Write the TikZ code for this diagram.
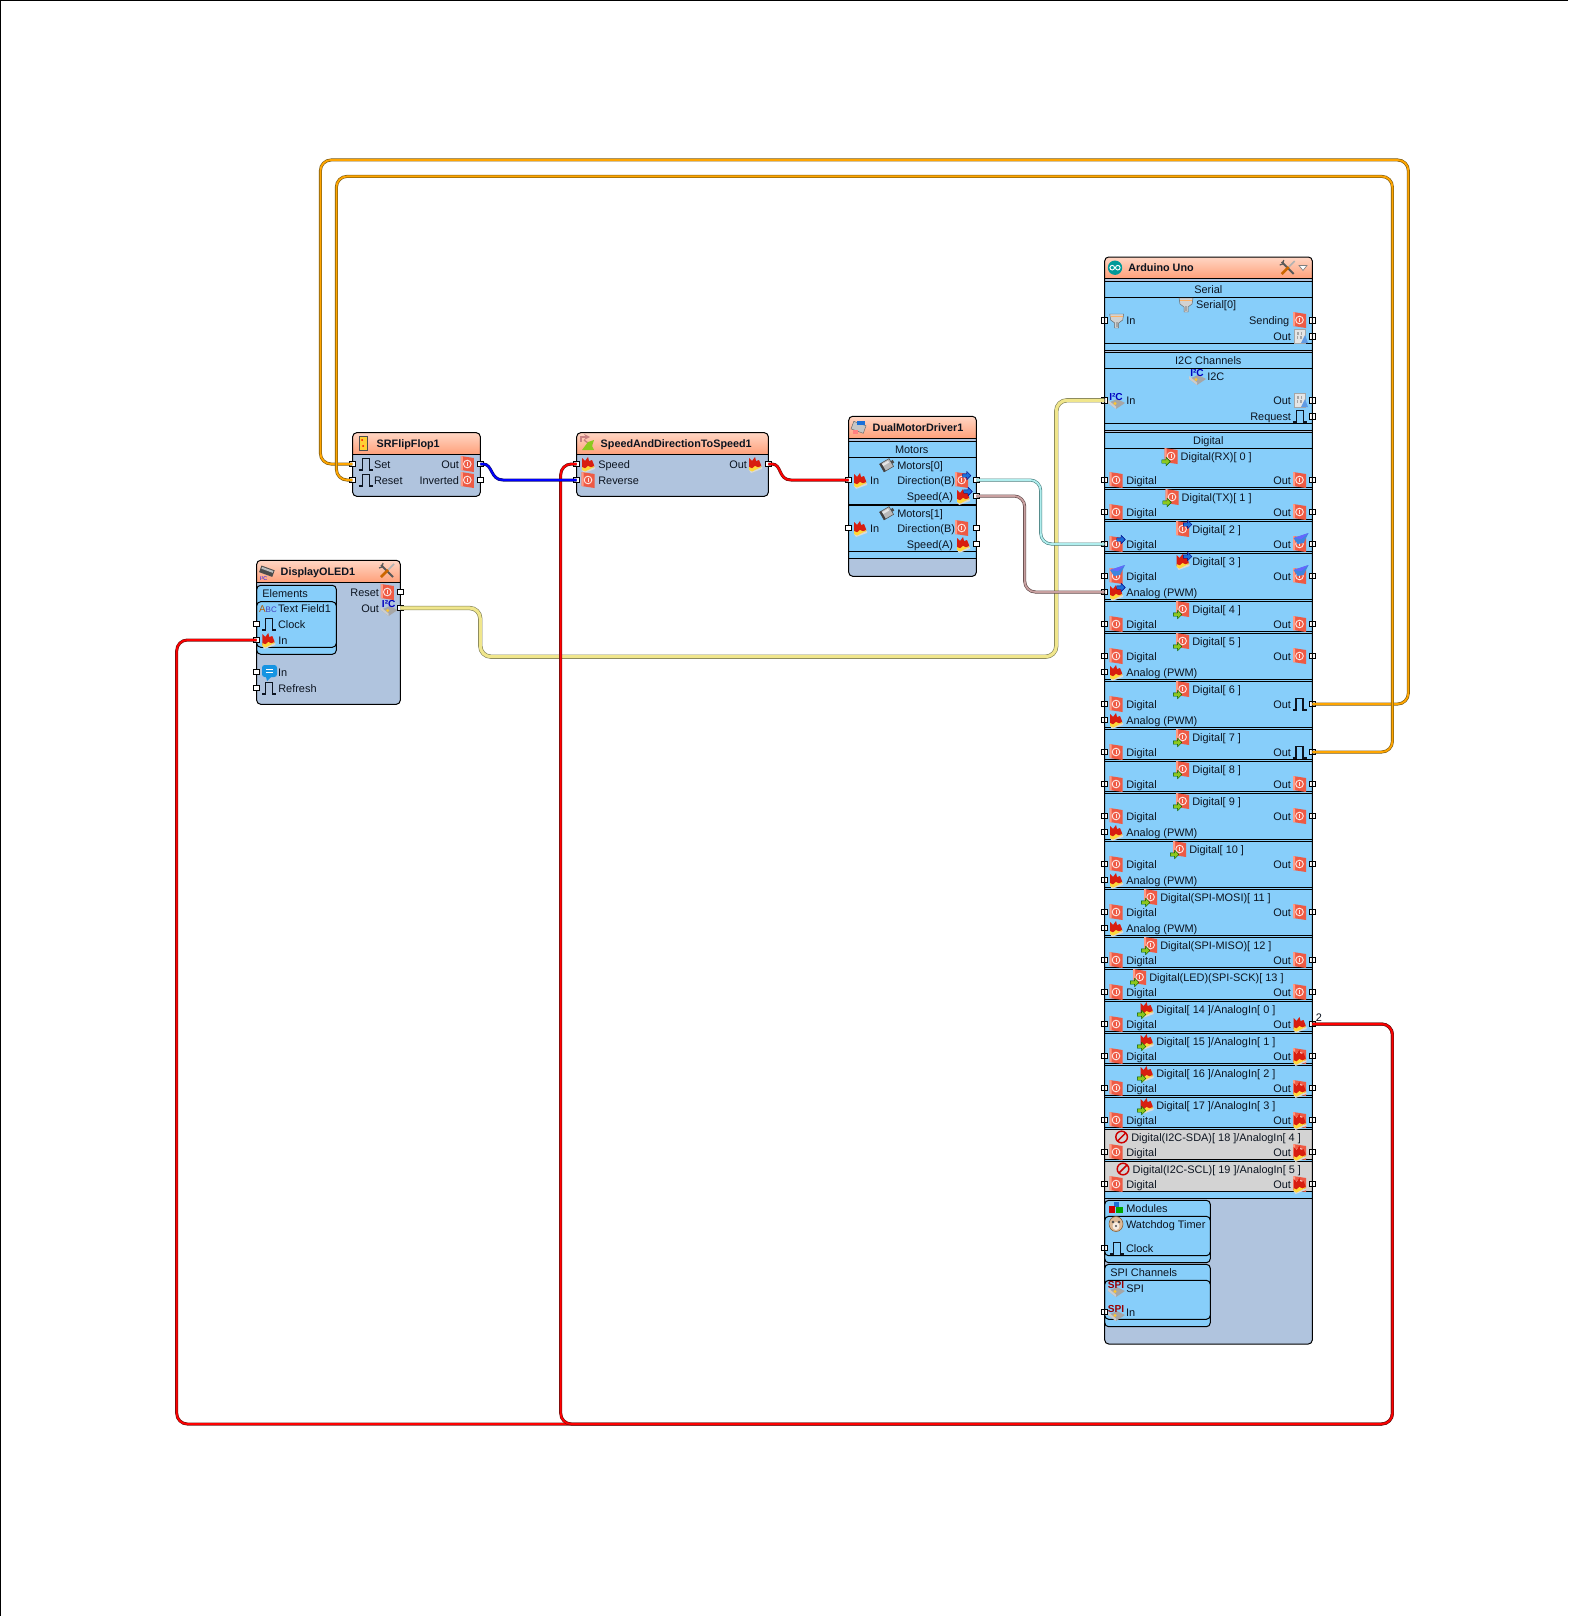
\documentclass[tikz,border=0pt]{standalone}
\usepackage{fontspec}
\setmainfont{Liberation Sans}
\definecolor{hdrA}{HTML}{FFD6C4}
\definecolor{hdrB}{HTML}{FFA07A}
\definecolor{body}{HTML}{B0C4DE}
\definecolor{sect}{HTML}{87CEFA}
\definecolor{grayrow}{HTML}{D3D3D3}
\definecolor{ink}{HTML}{0C1420}
\definecolor{tile}{HTML}{EE5A44}
\definecolor{tileb}{HTML}{FF9A84}
\definecolor{yel}{HTML}{FFD83A}
\definecolor{flam}{HTML}{D81E10}
\definecolor{grn}{HTML}{8CC81E}
\definecolor{blu}{HTML}{1C70D8}
\definecolor{orcore}{HTML}{FFA500}
\definecolor{oredge}{HTML}{7A5A10}
\definecolor{redcore}{HTML}{FF0000}
\definecolor{rededge}{HTML}{701010}
\definecolor{blcore}{HTML}{0000FF}
\definecolor{bledge}{HTML}{101070}
\definecolor{crcore}{HTML}{F0E68C}
\definecolor{credge}{HTML}{808058}
\definecolor{tlcore}{HTML}{B0EEEE}
\definecolor{tledge}{HTML}{4A8080}
\definecolor{mvcore}{HTML}{C8A0A0}
\definecolor{mvedge}{HTML}{604848}
\tikzset{
  x=0.75pt,y=-0.75pt,
  lab/.style={font=\fontsize{8.2}{9}\selectfont,text=ink,inner sep=0pt,outer sep=0pt},
  hdr/.style={font=\bfseries\fontsize{8.1}{9}\selectfont,text=ink,inner sep=0pt,outer sep=0pt},
  pinb/.style={rectangle,draw=black,fill=white,line width=0.75pt,minimum size=4.2pt,inner sep=0pt,outer sep=0pt},
  compbody/.style={rectangle,rounded corners=3pt,fill=body,inner sep=0pt,outer sep=0pt,anchor=north west},
  outl/.style={draw=black,line width=0.75pt},
  sec/.style={draw=black,line width=0.75pt,fill=sect},
  wire/.style={line width=0.45pt,double distance=1.35pt,rounded corners=8pt,line cap=butt},
  wor/.style={wire,draw=oredge,double=orcore},
  wrd/.style={wire,draw=rededge,double=redcore},
  wbl/.style={wire,draw=bledge,double=blcore},
  wcr/.style={wire,draw=credge,double=crcore,double distance=2.3pt},
  wtl/.style={wire,draw=tledge,double=tlcore},
  wmv/.style={wire,draw=mvedge,double=mvcore},
}
\newcount\tcnt
\newcommand\tL[3]{\global\advance\tcnt by 1\relax\node[lab,anchor=base west] (t\the\tcnt) at (#1,#2+4) {#3};}
\newcommand\tR[3]{\global\advance\tcnt by 1\relax\node[lab,anchor=base east] (t\the\tcnt) at (#1,#2+4) {#3};}
\newcommand\tC[3]{\global\advance\tcnt by 1\relax\node[lab,anchor=base] (t\the\tcnt) at (#1,#2+4) {#3};}
\newcommand\tH[3]{\global\advance\tcnt by 1\relax\node[hdr,anchor=base west] (t\the\tcnt) at (#1,#2+4) {#3};}
% icons
\newcommand\icdig[2]{\begin{scope}[shift={(#1,#2)}]
  \fill[tile] (-6.5,-8)--(6.5,-6)--(6.5,8)--(-6.5,6)--cycle;
  \fill[tileb] (-6.5,-8)--(-4.5,-7.6)--(-4.5,6.4)--(-6.5,6)--cycle;
  \draw[white!85!tile,line width=0.7pt] (0,0) circle (3.8);
  \draw[white!85!tile,line width=0.6pt] (0,-2)--(0,2);
\end{scope}}
\newcommand\icana[2]{\begin{scope}[shift={(#1,#2)}]
  \fill[gray!30] (-6,6)--(7,3)--(7,5)--(-4,9)--cycle;
  \fill[flam] (-6,5)--(-6,-6)--(-3,-3)--(0,-7)--(1,-3)--(4,-4)--(6,1)--(6,3)--cycle;
  \fill[yel] (-6,6)--(-6,3)--(-3,4.5)--(0,2)--(3,3.5)--(6,2)--(6,3)--(-3,7.5)--cycle;
\end{scope}}
\newcommand\icclk[2]{\begin{scope}[shift={(#1,#2)}]
  \draw[ink,line width=0.95pt,line join=miter] (-7,6)--(-3.5,6)--(-3.5,-5.5)--(3.5,-5.5)--(3.5,6)--(7,6);
\end{scope}}
\newcommand\icgr[2]{\begin{scope}[shift={(#1,#2)},scale=0.85]
  \fill[grn,draw=green!35!black,line width=0.3pt] (-5,-2)--(0,-2)--(0,-5)--(5,0)--(0,5)--(0,2)--(-5,2)--cycle;
\end{scope}}
\newcommand\icbl[2]{\begin{scope}[shift={(#1,#2)},scale=0.85]
  \fill[blu,draw=blue!50!black,line width=0.3pt] (-5,-2)--(0,-2)--(0,-5)--(5,0)--(0,5)--(0,2)--(-5,2)--cycle;
\end{scope}}
\newcommand\icwing[2]{\begin{scope}[shift={(#1,#2)}]
  \fill[blu!85] (-7,-3)--(8,-8)--(3,2)--(-3,3)--cycle;
  \fill[blue!60!white] (-7,-3)--(8,-8)--(1,-2)--cycle;
\end{scope}}
\newcommand\icdigG[2]{\icdig{#1}{#2}\icgr{#1-5}{#2+5.5}}
\newcommand\icdigB[2]{\icdig{#1}{#2}\icbl{#1+5}{#2-4.5}}
\newcommand\icdigW[2]{\icdig{#1}{#2}\icwing{#1+1}{#2-3}}
\newcommand\icanaB[2]{\icana{#1}{#2}\icbl{#1+5}{#2-4.5}}
\newcommand\icanaG[2]{\icana{#1}{#2}\icgr{#1-5}{#2+5.5}}
\newcommand\icdigA[2]{\icdig{#1}{#2}\icana{#1}{#2+1}}
\newcommand\icbin[2]{\begin{scope}[shift={(#1,#2)}]
  \fill[gray!20,draw=gray!70,line width=0.3pt] (-6,-7) rectangle (5,7);
  \fill[gray!70] (-3,-4) rectangle (-1,-1);\fill[gray!70] (1,-4) rectangle (2,-1);
  \fill[gray!70] (-3,0) rectangle (-2,3);\fill[gray!70] (0,0) rectangle (2,3);
  \fill[blu!70] (1,7)--(5,-1)--(8,7)--cycle;
\end{scope}}
\newcommand\icser[2]{\begin{scope}[shift={(#1,#2)}]
  \fill[gray!35,draw=gray!80!black,line width=0.35pt] (-7,-6)--(7,-6)--(6,0)--(2,3)--(2,8)--(-2,8)--(-2,3)--(-6,0)--cycle;
  \fill[orange!60] (-6,-4) rectangle (6,-2.6);
  \fill[gray!70] (-1,2) rectangle (1,7);
\end{scope}}
\newcommand\icchip[3]{\begin{scope}[shift={(#1,#2)}]
  \fill[gray!70] (-8,3)--(1,-1)--(9,3)--(0,9)--cycle;
  \fill[gray!40] (-8,3)--(0,9)--(0,6.5)--(-8,0)--cycle;
  \fill[yel!80!orange] (-1,3.5) circle (1.6);
  \global\advance\tcnt by 1\relax
  \node[inner sep=0pt,text=#3,font=\bfseries\fontsize{7.6}{8}\selectfont] (t\the\tcnt) at (0,-3) {\ifnum\pdfstrcmp{#3}{blue!75!black}=0 I²C\else SPI\fi};
\end{scope}}
\newcommand\icmot[2]{\begin{scope}[shift={(#1,#2)}]
  \fill[gray!55,draw=black!70,line width=0.4pt,rotate=30] (-6,-4.5) rectangle (5,4.5);
  \fill[gray!20,rotate=30] (-4,-3.2) rectangle (3,-1);
  \fill[black!75,rotate=30] (-6,-4.5) rectangle (-4,4.5);
  \fill[black!70,rotate=30] (5,-1.5) rectangle (7.5,1.5);
\end{scope}}
\newcommand\icforb[2]{\begin{scope}[shift={(#1,#2)}]
  \draw[red!80!black,line width=1.1pt] (0,0) circle (5.8);
  \draw[red!80!black,line width=1.1pt] (-4,4)--(4,-4);
\end{scope}}
\newcommand\icwrench[2]{\begin{scope}[shift={(#1,#2)}]
  \draw[gray!70!black,line width=1.5pt] (-6,-6)--(6,6);
  \draw[gray!70!black,line width=0.9pt] (-8,-3)--(-5,-4)--(-4,-8);
  \draw[gray!60,line width=1.2pt] (7,-7)--(1,-1);
  \draw[orange!80!black,line width=1.9pt] (1,-1)--(-6,6);
\end{scope}}
% components
\newcommand\comp[6]{%
  \pgfmathsetmacro\cw{(#4-#2)*0.75}\pgfmathsetmacro\ch{(#5-#3)*0.75}
  \node[compbody,minimum width=\cw pt,minimum height=\ch pt] (#1) at (#2,#3) {};
  \shade[top color=hdrA,bottom color=hdrB] (#2,#6) [rounded corners=3pt] -- (#2,#3) -- (#4,#3) [sharp corners] -- (#4,#6) -- cycle;
  \draw[outl] (#2,#6)--(#4,#6);
}
\newcommand\compout[4]{\draw[outl,rounded corners=3pt] (#1,#2) rectangle (#3,#4);}
\newcommand\pinode[3]{\node[pinb] (#1) at (#2,#3) {};}
\newcommand\rowL[3]{\pinode{al#1}{1104.3}{#1}#3{1116}{#1}\tL{1126.3}{#1}{#2}}
\newcommand\rowR[3]{\pinode{ar#1}{1312.3}{#1}#3{1299.5}{#1}\tR{1291}{#1}{#2}}
\newcommand\dT[4]{#4{#2-9.7}{#1}\tL{#2}{#1}{#3}}
\newcommand\hl[1]{\draw[outl] (1104.7,#1)--(1312.3,#1);}
\begin{document}
\begin{tikzpicture}
\useasboundingbox (0,0) rectangle (1568,1616);
\fill[white] (0,0) rectangle (1568,1616);
\coordinate (frameTL) at (0.5,0.5);
\draw[black,line width=1pt] (1568,0.5) -- (frameTL) -- (0.5,1616);

%%% SRFlipFlop
\comp{sr}{352.7}{432.7}{480.3}{496.3}{454.3}
\begin{scope}[shift={(363,443)}]
  \fill[yel!90!orange,draw=black!70,line width=0.4pt] (-4,-7) rectangle (4,7);
  \fill[red] (-1,-3) circle (1);\fill[red] (0,3) circle (1);
\end{scope}
\tH{376.7}{443}{SRFlipFlop1}
\icclk{365.7}{464}\tL{374}{464}{Set}
\icclk{365.7}{480}\tL{374}{480}{Reset}
\icdig{467.3}{464}\tR{459}{464}{Out}
\icdig{467.3}{480}\tR{459}{480}{Inverted}
\compout{352.7}{432.7}{480.3}{496.3}
\pinode{srset}{352.3}{464}\pinode{srreset}{352.3}{480}\pinode{srout}{480.3}{464}\pinode{srinv}{480.3}{480}

%%% SpeedAndDirection
\comp{sd}{576.7}{432.7}{768.3}{496.3}{454.3}
\begin{scope}[shift={(587,443)}]
  \draw[red!40!gray!70,line width=1pt,->,>=stealth] (-6,-1)--(-6,-6)--(3,-6);
  \draw[red!40!gray!70,line width=1pt] (-3,-3)--(5,3);
  \fill[grn] (-5,7)--(1,-1)--(7,-3)--(5,3)--(7,7)--cycle;
\end{scope}
\tH{600.7}{443}{SpeedAndDirectionToSpeed1}
\icana{588}{464}\tL{598.3}{464}{Speed}
\icdig{588}{480}\tL{598.3}{480}{Reverse}
\icana{755}{464}\tR{747}{464}{Out}
\compout{576.7}{432.7}{768.3}{496.3}
\pinode{sdspeed}{576.7}{464}\pinode{sdrev}{576.7}{480}\pinode{sdout}{768.3}{464}

%%% DualMotorDriver
\comp{dm}{848.7}{416.3}{976.3}{576.3}{438.3}
\begin{scope}[shift={(859,427.5)}]
  \fill[gray!45,draw=black!60,line width=0.35pt,rotate=-20] (-7,-4) rectangle (6,4);
  \fill[blu] (-2,-7)--(6,-7)--(6,-3)--(-2,-3)--cycle;
  \fill[red!50] (-6,2) rectangle (-1,6);
\end{scope}
\tH{872.7}{427.7}{DualMotorDriver1}
\filldraw[sec] (848.7,441) rectangle (976.3,558.3);
\draw[outl] (848.7,457.3)--(976.3,457.3);
\draw[outl] (848.7,504.3)--(976.3,504.3);
\draw[outl] (848.7,505.9)--(976.3,505.9);
\draw[outl] (848.7,551.3)--(976.3,551.3);
\tC{911.7}{449}{Motors}
\icmot{887}{465}\tL{897.3}{465}{Motors[0]}
\icana{860}{480}\tL{870}{480}{In}
\icdigB{961.7}{480}\tR{955}{480}{Direction(B)}
\icanaB{963}{496}\tR{953}{496}{Speed(A)}
\icmot{887}{513}\tL{897.3}{513}{Motors[1]}
\icana{860}{528}\tL{870}{528}{In}
\icdig{961.7}{528}\tR{955}{528}{Direction(B)}
\icana{963}{544}\tR{953}{544}{Speed(A)}
\compout{848.7}{416.3}{976.3}{576.3}
\pinode{dmin}{848.7}{480}\pinode{dmdir}{976.3}{480}\pinode{dmspd}{976.3}{496}
\pinode{dmin2}{848.7}{528}\pinode{dmdir2}{976.3}{528}\pinode{dmspd2}{976.3}{544}

%%% DisplayOLED
\comp{ol}{256.7}{560.3}{400.3}{704.3}{582.3}
\begin{scope}[shift={(266.7,571.7)}]
  \fill[black!70,rotate=-20] (-7,-4) rectangle (7,3);
  \fill[gray!50,rotate=-20] (-6,-3) rectangle (6,-1);
  \node[inner sep=0pt,text=blue,font=\fontsize{4}{4}\selectfont] (oledtag) at (-3,7) {I²C};
\end{scope}
\tH{280.7}{571.5}{DisplayOLED1}
\icwrench{387}{571}
\filldraw[sec,rounded corners=3pt] (256.7,585.3) rectangle (336.3,654.3);
\filldraw[sec,rounded corners=3pt] (256.7,601.7) rectangle (336.3,647.3);
\tL{262.3}{593}{Elements}
\tL{278}{608}{Text Field1}
\begin{scope}[shift={(268,609)}]
  \global\advance\tcnt by 1\relax
  \node[inner sep=0pt,text=orange!70!black,font=\fontsize{7.4}{8}\selectfont] (t\the\tcnt) at (0,0) {A\textcolor{blue!50!gray}{\fontsize{6}{6}\selectfont BC}};
\end{scope}
\icclk{269.3}{624}\tL{278}{624}{Clock}
\icana{268.3}{640}\tL{278.3}{640}{In}
\tR{379}{592}{Reset}\icdig{387.3}{592}
\tR{379}{608}{Out}
\icchip{388.7}{607}{blue!75!black}
\begin{scope}[shift={(269,672)}]
  \fill[blu!75!cyan,rounded corners=2pt] (-7,-7) rectangle (8,5);
  \fill[blu!75!cyan] (-3,5)--(2,5)--(-2,9)--cycle;
  \draw[white,line width=0.6pt] (-3,-3)--(4,-3) (-3,0)--(4,0);
\end{scope}
\tL{278}{672}{In}
\icclk{269.3}{688}\tL{278.3}{688}{Refresh}
\compout{256.7}{560.3}{400.3}{704.3}
\pinode{olclk}{256.7}{624}\pinode{olin}{256.7}{640}\pinode{olin2}{256.7}{672}\pinode{olrefresh}{256.7}{688}
\pinode{olreset}{400.3}{592}\pinode{olout}{400.3}{608}

%%% Arduino
\comp{ar}{1104.7}{257}{1312.3}{1344}{278.3}
\fill[teal!80!cyan] (1115,267.7) circle (7.2);
\draw[white,line width=0.7pt] (1112.2,267.7) circle (2.3) (1117.8,267.7) circle (2.3);
\tH{1128.3}{267.5}{Arduino Uno}
\icwrench{1287.7}{268}
\fill[white,draw=gray,line width=0.5pt] (1299,265.5)--(1307,265.5)--(1303,270.5)--cycle;
\filldraw[sec] (1104.7,281) rectangle (1312.3,350.3);
\filldraw[sec] (1104.7,352.3) rectangle (1312.3,430.3);
\filldraw[sec] (1104.7,432.3) rectangle (1312.3,1198.7);
\fill[grayrow] (1105,1129.3) rectangle (1312,1159.3);
\fill[grayrow] (1105,1161.3) rectangle (1312,1191.3);
\hl{297.3}\hl{343.3}
\hl{368.3}\hl{423.3}
\hl{448.3}
\foreach \yy in {487.3,489.3,519.6,521.3,551.6,553.3,599.3,601.3,631.3,633.3,679.3,681.3,727.3,729.3,759.3,761.3,791.6,793.3,839.6,841.3,887.6,889.3,935.6,937.3,967.3,969.3,999.3,1001.3,1031.3,1033.3,1063.3,1065.3,1095.3,1097.3,1127.3,1129.3,1159.3,1161.3,1191.3}{\hl{\yy}}
\tC{1208.3}{289}{Serial}
\icser{1186}{304}\tL{1196}{304}{Serial[0]}
\pinode{alser}{1104.3}{320.3}\icser{1116.7}{320}\tL{1126.3}{320}{In}
\pinode{arsend}{1312.3}{320.3}\icdig{1299.5}{320}\tR{1289.3}{320}{Sending}
\pinode{arsero}{1312.3}{336.3}\icbin{1300}{336}\tR{1291}{336}{Out}
\tC{1208.3}{360}{I2C Channels}
\tL{1207.3}{376}{I2C}\icchip{1197}{376}{blue!75!black}
\pinode{ali2c}{1104.3}{400.3}\icchip{1116}{400}{blue!75!black}\tL{1126.3}{400}{In}
\pinode{ari2co}{1312.3}{400.3}\icbin{1300}{400}\tR{1291}{400}{Out}
\pinode{arreq}{1312.3}{416.3}\icclk{1300}{416}\tR{1291}{416}{Request}
\tC{1208.3}{440}{Digital}
% rows
\dT{456}{1180.7}{Digital(RX)[ 0 ]}{\icdigG}\rowL{480}{Digital}{\icdig}\rowR{480}{Out}{\icdig}
\dT{497}{1181.7}{Digital(TX)[ 1 ]}{\icdigG}\rowL{512}{Digital}{\icdig}\rowR{512}{Out}{\icdig}
\dT{529}{1192.3}{Digital[ 2 ]}{\icdigB}\rowL{544}{Digital}{\icdigB}\rowR{544}{Out}{\icdigW}
\dT{561}{1192.3}{Digital[ 3 ]}{\icanaB}\rowL{576}{Digital}{\icdigW}\rowR{576}{Out}{\icdigW}\rowL{592}{Analog (PWM)}{\icanaB}
\dT{609}{1192.3}{Digital[ 4 ]}{\icdigG}\rowL{624}{Digital}{\icdig}\rowR{624}{Out}{\icdig}
\dT{641}{1192.3}{Digital[ 5 ]}{\icdigG}\rowL{656}{Digital}{\icdig}\rowR{656}{Out}{\icdig}\rowL{672}{Analog (PWM)}{\icana}
\dT{689}{1192.3}{Digital[ 6 ]}{\icdigG}\rowL{704}{Digital}{\icdig}\rowR{704}{Out}{\icclk}\rowL{720}{Analog (PWM)}{\icana}
\dT{737}{1192.3}{Digital[ 7 ]}{\icdigG}\rowL{752}{Digital}{\icdig}\rowR{752}{Out}{\icclk}
\dT{769}{1192.3}{Digital[ 8 ]}{\icdigG}\rowL{784}{Digital}{\icdig}\rowR{784}{Out}{\icdig}
\dT{801}{1192.3}{Digital[ 9 ]}{\icdigG}\rowL{816}{Digital}{\icdig}\rowR{816}{Out}{\icdig}\rowL{832}{Analog (PWM)}{\icana}
\dT{849}{1189.3}{Digital[ 10 ]}{\icdigG}\rowL{864}{Digital}{\icdig}\rowR{864}{Out}{\icdig}\rowL{880}{Analog (PWM)}{\icana}
\dT{897}{1160.3}{Digital(SPI-MOSI)[ 11 ]}{\icdigG}\rowL{912}{Digital}{\icdig}\rowR{912}{Out}{\icdig}\rowL{928}{Analog (PWM)}{\icana}
\dT{945}{1160.3}{Digital(SPI-MISO)[ 12 ]}{\icdigG}\rowL{960}{Digital}{\icdig}\rowR{960}{Out}{\icdig}
\dT{977}{1149.3}{Digital(LED)(SPI-SCK)[ 13 ]}{\icdigG}\rowL{992}{Digital}{\icdig}\rowR{992}{Out}{\icdig}
\dT{1009}{1156.3}{Digital[ 14 ]/AnalogIn[ 0 ]}{\icanaG}\rowL{1024}{Digital}{\icdig}\rowR{1024}{Out}{\icana}
\dT{1041}{1156.3}{Digital[ 15 ]/AnalogIn[ 1 ]}{\icanaG}\rowL{1056}{Digital}{\icdig}\rowR{1056}{Out}{\icdigA}
\dT{1073}{1156.3}{Digital[ 16 ]/AnalogIn[ 2 ]}{\icanaG}\rowL{1088}{Digital}{\icdig}\rowR{1088}{Out}{\icdigA}
\dT{1105}{1156.3}{Digital[ 17 ]/AnalogIn[ 3 ]}{\icanaG}\rowL{1120}{Digital}{\icdig}\rowR{1120}{Out}{\icdigA}
\dT{1137}{1131.3}{Digital(I2C-SDA)[ 18 ]/AnalogIn[ 4 ]}{\icforb}\rowL{1152}{Digital}{\icdig}\rowR{1152}{Out}{\icdigA}
\dT{1169}{1132.7}{Digital(I2C-SCL)[ 19 ]/AnalogIn[ 5 ]}{\icforb}\rowL{1184}{Digital}{\icdig}\rowR{1184}{Out}{\icdigA}
% modules
\filldraw[sec,rounded corners=3pt] (1104.7,1200.3) rectangle (1210.3,1262.7);
\filldraw[sec,rounded corners=3pt] (1104.7,1216.3) rectangle (1210.3,1255.7);
\filldraw[sec,rounded corners=3pt] (1104.7,1264.3) rectangle (1210.3,1326.7);
\filldraw[sec,rounded corners=3pt] (1104.7,1280.3) rectangle (1210.3,1319.3);
\begin{scope}[shift={(1116,1208)}]
  \fill[blu] (-2,-6) rectangle (3,-1);
  \fill[red!80!black] (-7,-2) rectangle (-1,5);
  \fill[green!65!black] (0,-1) rectangle (7,5);
\end{scope}
\tL{1126.3}{1208}{Modules}
\begin{scope}[shift={(1116,1224)}]
  \fill[brown!55!white,draw=brown!70!black,line width=0.4pt] (0,0) ellipse (7 and 7.5);
  \fill[white!85!brown] (0,2) ellipse (3.5 and 4);
  \fill[black!70] (-3,-2) circle (1.3);\fill[black!70] (3,-2) circle (1.3);
  \fill[black!70] (0,2) circle (1.2);
\end{scope}
\tL{1126}{1224}{Watchdog Timer}
\pinode{alclk}{1104.3}{1248}\icclk{1117}{1248}\tL{1126}{1248}{Clock}
\tL{1110.3}{1272}{SPI Channels}
\icchip{1116}{1288}{red!60!black}\tL{1126.3}{1288}{SPI}
\pinode{alspi}{1104.3}{1312}\icchip{1116}{1312}{red!60!black}\tL{1126}{1312}{In}
\compout{1104.7}{257}{1312.3}{1344}
\global\advance\tcnt by 1\relax
\node[lab,anchor=base] (t\the\tcnt) at (1319,1021) {2};

%%% wires
\draw[wor] (srset.center) -- (320.4,464) -- (320.4,160) -- (1408.3,160) -- (1408.3,704) -- (ar704.center);
\draw[wor] (srreset.center) -- (336.4,480) -- (336.4,176.4) -- (1392.4,176.4) -- (1392.4,752) -- (ar752.center);
\draw[wcr] (olout.center) -- (480.3,608) -- (480.3,656.7) -- (1056.3,656.7) -- (1056.3,400.3) -- (ali2c.center);
\draw[wrd] (ar1024.center) -- (1392.4,1024) -- (1392.4,1424) -- (176.7,1424) -- (176.7,640) -- (olin.center);
\draw[wrd] (ar1024.center) -- (1392.4,1024) -- (1392.4,1424) -- (560.7,1424) -- (560.7,464) -- (sdspeed.center);
\draw[wbl,rounded corners=0pt] (srout.center) -- (483,464) .. controls (493,464) and (490,480) .. (503,480) -- (sdrev.center);
\draw[wrd,rounded corners=0pt] (sdout.center) -- (772,464) .. controls (782,464) and (778,480) .. (791,480) -- (dmin.center);
\draw[wtl] (dmdir.center) -- (1040.7,480) -- (1040.7,544) -- (al544.center);
\draw[wmv] (dmspd.center) -- (1024.7,496) -- (1024.7,592) -- (al592.center);
\end{tikzpicture}
\end{document}
